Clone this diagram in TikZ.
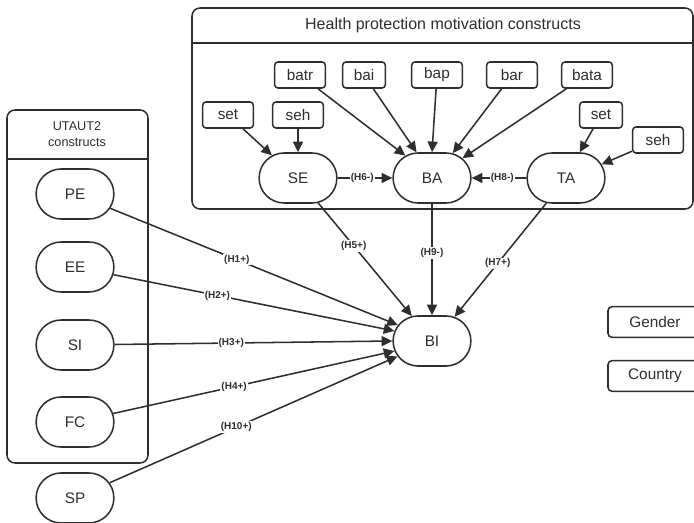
\documentclass[tikz,border=0pt]{standalone}
\usepackage{fontspec}
\setmainfont{Liberation Sans}
\usetikzlibrary{shapes.misc,arrows.meta}

\definecolor{ink}{HTML}{2E2E2E}

\tikzset{every picture/.style={line width=1.15pt}}
\tikzset{
    construct/.style={draw=ink, text=ink, rounded rectangle, minimum width=65pt, minimum height=37.5pt, font=\fontsize{11.5}{13}\selectfont},
    item/.style={draw=ink, text=ink, rounded corners=2.5pt, minimum width=38pt, minimum height=19.5pt, inner sep=1pt, font=\fontsize{11.5}{13}\selectfont},
    moderator/.style={draw=ink, text=ink, rounded corners=3pt, minimum width=70.5pt, minimum height=23pt, font=\fontsize{11.5}{13}\selectfont},
    path/.style={draw=ink, -{Triangle[length=8pt,width=7.5pt]}},
    hyp/.style={fill=white, text=ink, inner sep=0.8pt, font=\bfseries\fontsize{7.5}{8}\selectfont},
}

\begin{document}
\begin{tikzpicture}[x=0.75pt,y=0.75pt,yscale=-1,xscale=1]
        \useasboundingbox (0,0) rectangle (694,523);
        \clip (0,0) rectangle (694,523);

        % group frames
        \draw[ink, rounded corners=6] (192,8) rectangle (693,209);
        \draw[ink] (192,43) -- (693,43);
        \draw[ink, rounded corners=6] (7,110) rectangle (148,463);
        \draw[ink] (7,159) -- (148,159);
        \node[text=ink, font=\fontsize{12}{14}\selectfont] (hpmt) at (443,25) {Health protection motivation constructs};
        \node[text=ink, align=center, font=\fontsize{9.5}{12}\selectfont] (utaut) at (77,134) {UTAUT2\\constructs};

        % constructs
        \node[construct] (SE) at (298,178) {SE};
        \node[construct] (BA) at (432,178) {BA};
        \node[construct] (TA) at (566,178) {TA};
        \node[construct] (BI) at (432,341) {BI};
        \node[construct] (PE) at (75,194) {PE};
        \node[construct] (EE) at (75,267) {EE};
        \node[construct] (SI) at (75,345) {SI};
        \node[construct] (FC) at (75,422) {FC};
        \node[construct] (SP) at (75,498) {SP};

        % items
        \node[item] (batr) at (300,75) {batr};
        \node[item, minimum width=32pt] (bai) at (364,75) {bai};
        \node[item] (bap) at (437,75) {bap};
        \node[item] (bar) at (512,75) {bar};
        \node[item] (bata) at (587,75) {bata};
        \node[item] (setSE) at (228,115) {set};
        \node[item] (sehSE) at (298,115) {seh};
        \node[item, minimum width=32pt] (setTA) at (601,115) {set};
        \node[item] (sehTA) at (658,140) {seh};

        \node[moderator] (gender) at (655,322) {Gender};
        \node[moderator] (country) at (655,376) {Country};

        \draw[path] (batr) -- (BA.140);
        \draw[path] (bai) -- (BA.121);
        \draw[path] (bap) -- (BA.north);
        \draw[path] (bar) -- (BA.50);
        \draw[path] (bata) -- (BA.33);
        \draw[path] (setSE) -- (SE.139);
        \draw[path] (sehSE) -- (SE.north);
        \draw[path] (setTA) -- (TA.62);
        \draw[path] (sehTA) -- (TA.21);

        \draw[path] (SE) -- node[hyp, pos=0.45] {(H6-)} (BA);
        \draw[path] (TA) -- node[hyp, pos=0.44] {(H8-)} (BA);
        \draw[path] (SE.309) -- node[hyp, pos=0.38] {(H5+)} (BI.129);
        \draw[path] (BA) -- node[hyp, pos=0.44] {(H9-)} (BI);
        \draw[path] (TA.232) -- node[hyp, pos=0.53] {(H7+)} (BI.47);

        \draw[path] (PE) -- node[hyp, pos=0.44] {(H1+)} (BI.155);
        \draw[path] (EE) -- node[hyp, pos=0.37] {(H2+)} (BI.165);
        \draw[path] (SI) -- node[hyp, pos=0.42] {(H3+)} (BI.180);
        \draw[path] (FC) -- node[hyp, pos=0.43] {(H4+)} (BI.195);
        \draw[path] (SP) -- node[hyp, pos=0.44] {(H10+)} (BI.204);
    \end{tikzpicture}
\end{document}
